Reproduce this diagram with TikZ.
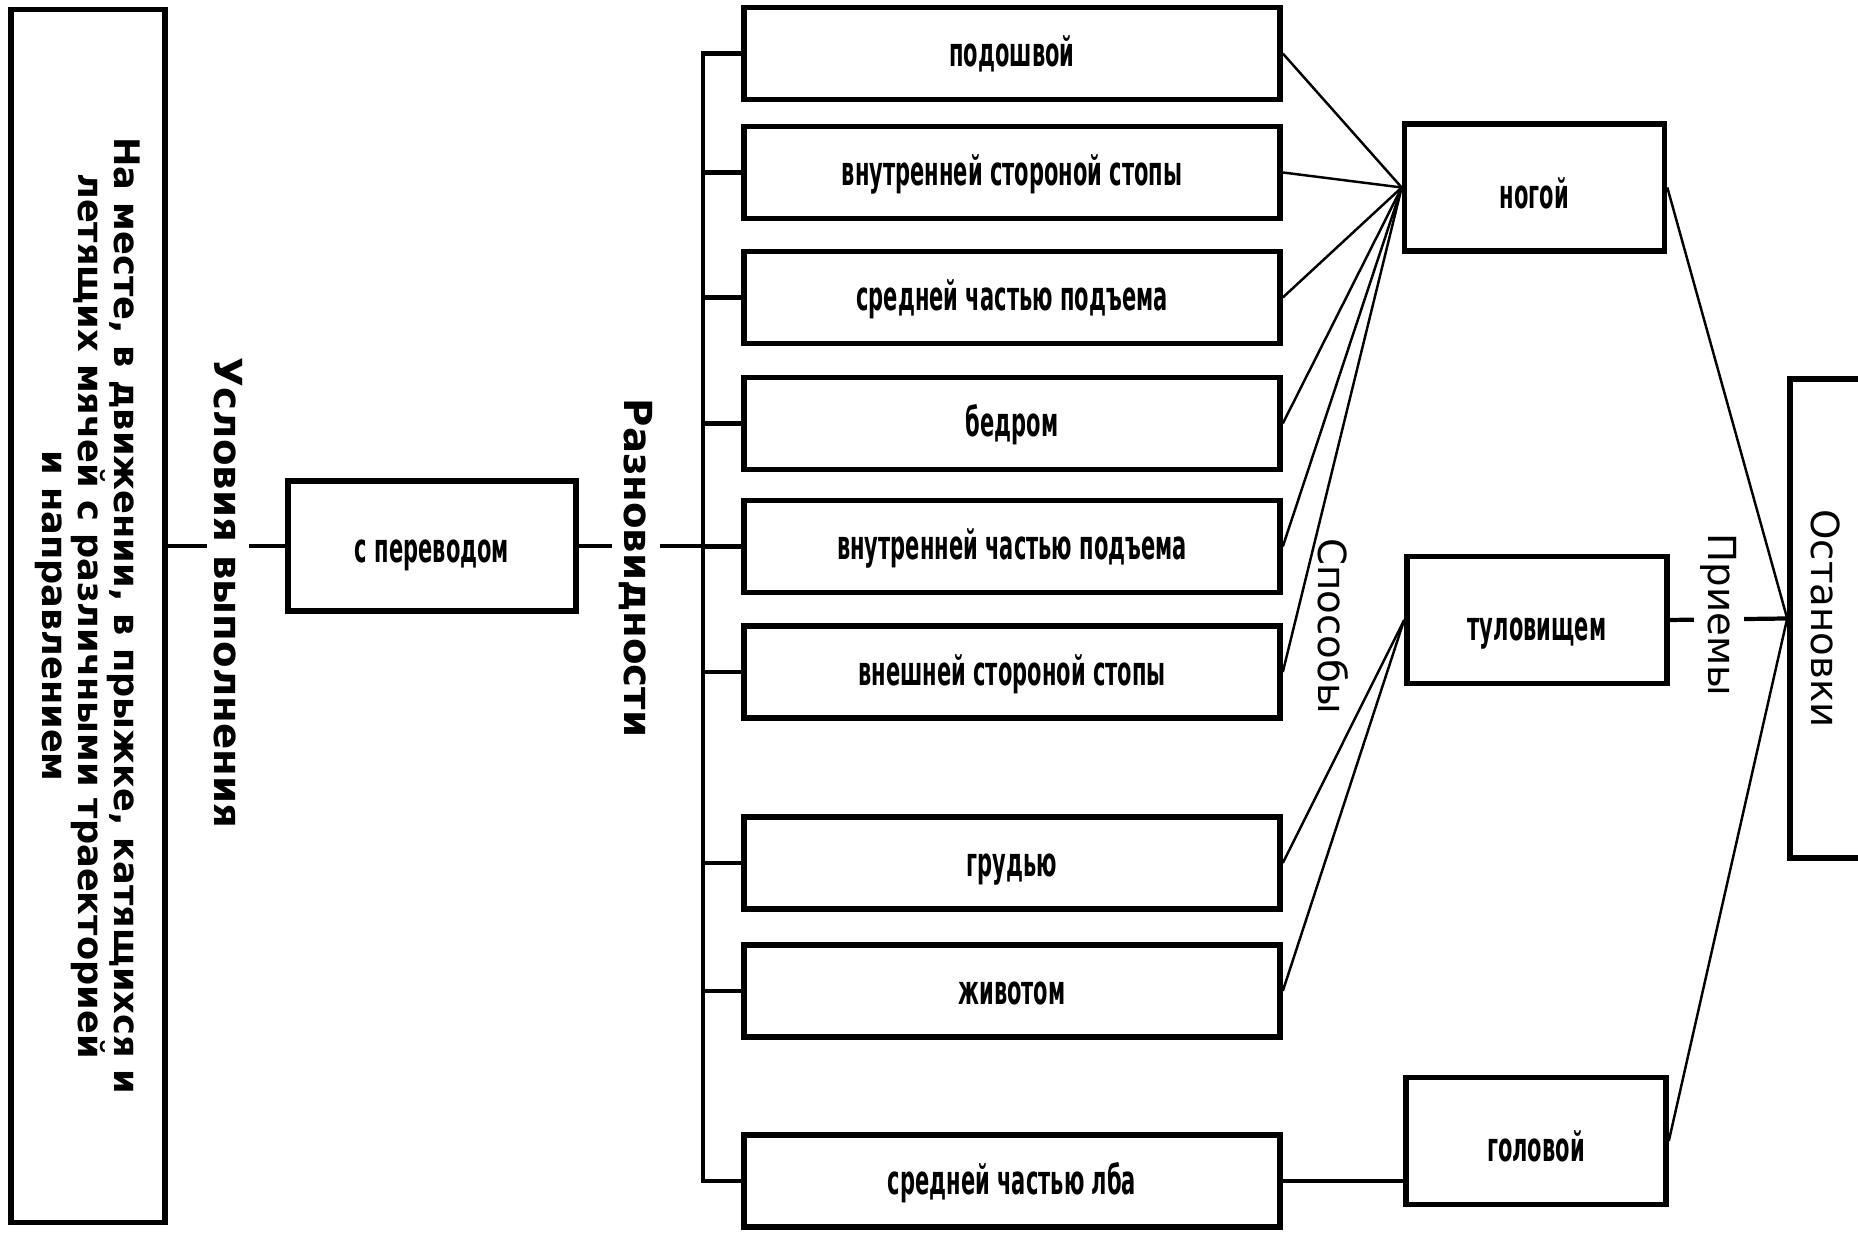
\documentclass[tikz,border=0pt]{standalone}
\usepackage{fontspec}
\setmainfont{DejaVu Sans}
\newfontfamily\boxfont{DejaVu Sans Bold}[FakeStretch=0.52]
\usepackage{tikz}
\usetikzlibrary{arrows,positioning,calc}
\tikzstyle{variant} = [draw,line width=1.6pt,minimum width=5.36cm,minimum height=0.92cm,inner sep=0pt,text height=0.27cm,text depth=0pt,font=\boxfont\fontsize{11.5}{13}\selectfont]
\tikzstyle{way} = [draw,line width=1.6pt,minimum width=2.6cm,minimum height=1.27cm,inner sep=0pt,text height=0.42cm,text depth=0pt,font=\boxfont\fontsize{11.5}{13}\selectfont]
\tikzstyle{heading} = [fill=white,inner sep=2pt,rotate=-90,font=\bfseries\fontsize{11}{13}\selectfont]
\tikzstyle{side} = [inner sep=2pt,rotate=-90,font=\fontsize{11}{13}\selectfont]
\tikzstyle{link} = [line width=0.7pt]
\tikzstyle{tick} = [line width=1.2pt]

\begin{document}
\begin{tikzpicture}
                  \useasboundingbox (0,0) rectangle (18.58,12.39);
                  \clip (0,0) rectangle (18.58,12.39);
                  \node (cond)[draw,line width=1.6pt,rotate=-90,minimum width=12.13cm,minimum height=1.54cm,inner sep=0pt,align=center,font=\bfseries\fontsize{10}{10.2}\selectfont] at (0.88,6.23) {На месте, в движении, в прыжке, катящихся и\\летящих мячей с различными траекторией\\и направлением};
                  \node (var)[draw,line width=1.6pt,minimum width=2.88cm,minimum height=1.30cm,inner sep=0pt,text height=0.33cm,text depth=0pt,font=\boxfont\fontsize{11.5}{13}\selectfont] at (4.32,6.93) {с переводом};
                  \coordinate (bus) at (7.03,0);

                  \node (m1)[variant] at (10.12,11.855) {подошвой};
                  \node (m2)[variant] at (10.12,10.665) {внутренней стороной стопы};
                  \node (m3)[variant] at (10.12,9.415) {средней частью подъема};
                  \node (m4)[variant] at (10.12,8.155) {бедром};
                  \node (m5)[variant] at (10.12,6.925) {внутренней частью подъема};
                  \node (m6)[variant] at (10.12,5.67) {внешней стороной стопы};
                  \node (m7)[variant] at (10.12,3.76) {грудью};
                  \node (m8)[variant] at (10.12,2.48) {животом};
                  \node (m9)[variant] at (10.12,0.58) {средней частью лба};

                  \node (w1)[way] at (15.345,10.515) {ногой};
                  \node (w2)[way] at (15.37,6.19) {туловищем};
                  \node (w3)[way] at (15.36,0.98) {головой};
                  \node (stop)[draw,line width=1.6pt,rotate=-90,minimum width=4.79cm,minimum height=0.72cm,inner sep=0pt,font=\fontsize{11}{13}\selectfont] at (18.26,6.205) {Остановки};

                  \draw[tick] (var.west) -- (var.west -| cond.north) ;
                  \draw[tick] (var.east) -- (bus |- var.east) ;
                  \draw[tick] (m1.west) -- (bus |- m1.west) -- (bus |- m9.west) -- (m9.west) ;
                  \draw[tick] (bus |- m2.west) -- (m2.west) ;
                  \draw[tick] (bus |- m3.west) -- (m3.west) ;
                  \draw[tick] (bus |- m4.west) -- (m4.west) ;
                  \draw[tick] (bus |- m5.west) -- (m5.west) ;
                  \draw[tick] (bus |- m6.west) -- (m6.west) ;
                  \draw[tick] (bus |- m7.west) -- (m7.west) ;
                  \draw[tick] (bus |- m8.west) -- (m8.west) ;

                  \draw[link] (m1.east) -- (w1.west) ;
                  \draw[link] (m2.east) -- (w1.west) ;
                  \draw[link] (m3.east) -- (w1.west) ;
                  \draw[link] (m4.east) -- (w1.west) ;
                  \draw[link] (m5.east) -- (w1.west) ;
                  \draw[link] (m6.east) -- (w1.west) ;
                  \draw[link] (m7.east) -- (w2.west) ;
                  \draw[link] (m8.east) -- (w2.west) ;
                  \draw[tick] (m9.east) -- (m9.east -| w3.west) ;

                  \draw[link] (w1.east) -- (stop.south) ;
                  \draw[tick] (w2.east) -- (stop.south) ;
                  \draw[link] (w3.east) -- (stop.south) ;

                  \node (t1)[heading] at (2.28,6.46) {Условия выполнения};
                  \node (t2)[heading] at (6.36,6.71) {Разновидности};
                  \node (t3)[side] at (13.33,6.13) {Способы};
                  \node (t4)[side,fill=white] at (17.19,6.24) {Приемы};
            \end{tikzpicture}
\end{document}
